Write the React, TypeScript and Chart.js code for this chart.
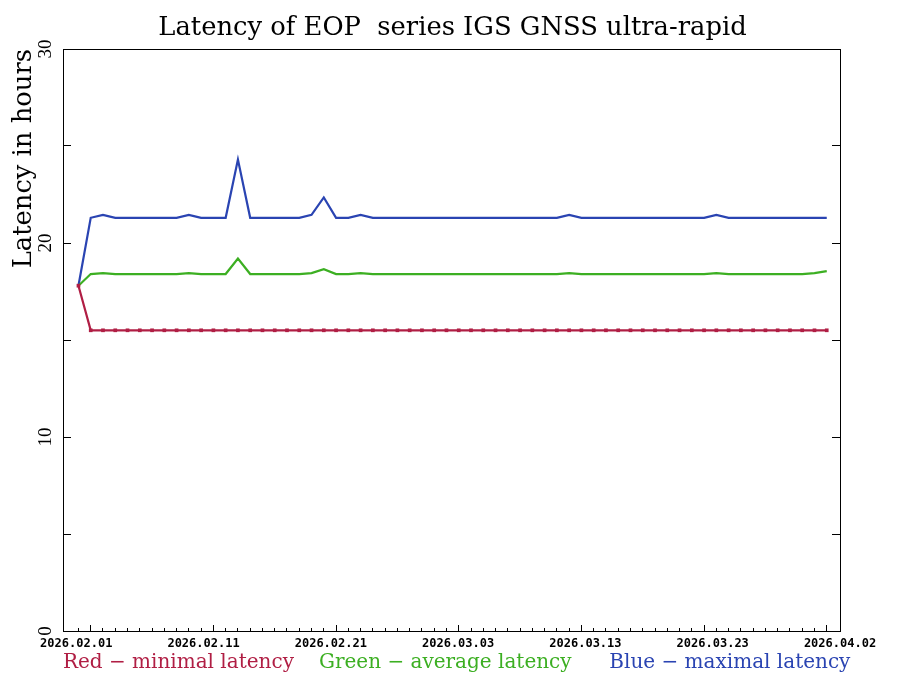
import React, { useEffect, useRef } from "react";
import { Chart, registerables } from "chart.js";

Chart.register(...registerables);

// ---- data -------------------------------------------------------------
const firstDate = "2026-01-31"; // first daily sample
const axisOriginDate = "2026-02-01"; // day 0 on the x axis

const redMinimal = [
  17.8, 15.5, 15.5, 15.5, 15.5, 15.5, 15.5, 15.5, 15.5, 15.5,
  15.5, 15.5, 15.5, 15.5, 15.5, 15.5, 15.5, 15.5, 15.5, 15.5,
  15.5, 15.5, 15.5, 15.5, 15.5, 15.5, 15.5, 15.5, 15.5, 15.5,
  15.5, 15.5, 15.5, 15.5, 15.5, 15.5, 15.5, 15.5, 15.5, 15.5,
  15.5, 15.5, 15.5, 15.5, 15.5, 15.5, 15.5, 15.5, 15.5, 15.5,
  15.5, 15.5, 15.5, 15.5, 15.5, 15.5, 15.5, 15.5, 15.5, 15.5,
  15.5, 15.5,
];

const greenAverage = [
  17.8, 18.4, 18.45, 18.4, 18.4, 18.4, 18.4, 18.4, 18.4, 18.45,
  18.4, 18.4, 18.4, 19.2, 18.4, 18.4, 18.4, 18.4, 18.4, 18.45,
  18.65, 18.4, 18.4, 18.45, 18.4, 18.4, 18.4, 18.4, 18.4, 18.4,
  18.4, 18.4, 18.4, 18.4, 18.4, 18.4, 18.4, 18.4, 18.4, 18.4,
  18.45, 18.4, 18.4, 18.4, 18.4, 18.4, 18.4, 18.4, 18.4, 18.4,
  18.4, 18.4, 18.45, 18.4, 18.4, 18.4, 18.4, 18.4, 18.4, 18.4,
  18.45, 18.55,
];

const blueMaximal = [
  17.8, 21.3, 21.45, 21.3, 21.3, 21.3, 21.3, 21.3, 21.3, 21.45,
  21.3, 21.3, 21.3, 24.3, 21.3, 21.3, 21.3, 21.3, 21.3, 21.45,
  22.35, 21.3, 21.3, 21.45, 21.3, 21.3, 21.3, 21.3, 21.3, 21.3,
  21.3, 21.3, 21.3, 21.3, 21.3, 21.3, 21.3, 21.3, 21.3, 21.3,
  21.45, 21.3, 21.3, 21.3, 21.3, 21.3, 21.3, 21.3, 21.3, 21.3,
  21.3, 21.3, 21.45, 21.3, 21.3, 21.3, 21.3, 21.3, 21.3, 21.3,
  21.3, 21.3,
];

const xTickLabels = [
  "2026.02.01",
  "2026.02.11",
  "2026.02.21",
  "2026.03.03",
  "2026.03.13",
  "2026.03.23",
  "2026.04.02",
];
const xMinorTickDays = [-1, 0, 1, 2, 3, 4, 5, 6, 7, 8, 9, 10, 11, 12, 13, 14, 15, 16, 17, 18, 19, 20,
  21, 22, 23, 24, 25, 26, 27, 28, 29, 30, 31, 32, 33, 34, 35, 36, 37, 38, 39, 40, 41, 42, 43, 44,
  45, 46, 47, 48, 49, 50, 51, 52, 53, 54, 55, 56, 57, 58, 59, 60];
const xMajorTickDays = [0, 10, 20, 30, 40, 50, 60];
const yTickMarks = [0, 5, 10, 15, 20, 25, 30];
const yTickLabelValues = [0, 10, 20, 30];

const titleText = "Latency of EOP  series IGS GNSS ultra-rapid";
const yTitleText = "Latency in hours";
const legendTexts = [
  "Red \u2212 minimal latency",
  "Green \u2212 average latency  ",
  "Blue \u2212 maximal latency  ",
];

const RED = "#b01e44";
const GREEN = "#3caf22";
const BLUE = "#2a44b2";
const seriesColors = [RED, GREEN, BLUE];

// axis extents (days relative to 2026-02-01)
const X_MIN = -2.26;
const X_MAX = 61.08;
const XLAB_MIN = -0.104;
const XLAB_MAX = 6;

const DAY_MS = 86400000;

function dayOffset(i: number): number {
  const start = Date.parse(firstDate + "T00:00:00Z");
  const origin = Date.parse(axisOriginDate + "T00:00:00Z");
  return (start + i * DAY_MS - origin) / DAY_MS;
}

function toPoints(values: number[]) {
  return values.map((v, i) => ({ x: dayOffset(i), y: v }));
}

export default function App() {
  const ref = useRef<HTMLCanvasElement | null>(null);

  useEffect(() => {
    const canvas = ref.current;
    if (!canvas) return;

    const serif = "'DejaVu Serif', serif";
    const digits = "'Liberation Serif', serif";

    const chart = new Chart(canvas, {
      type: "line",
      data: {
        datasets: [
          {
            label: "min",
            data: toPoints(redMinimal),
            borderColor: RED,
            backgroundColor: RED,
            borderWidth: 2.2,
            pointStyle: "rect",
            pointRadius: 2.6,
            pointBorderWidth: 0,
            pointBackgroundColor: RED,
            tension: 0,
          },
          {
            label: "avg",
            data: toPoints(greenAverage),
            borderColor: GREEN,
            backgroundColor: GREEN,
            borderWidth: 2.2,
            pointRadius: 0,
            tension: 0,
          },
          {
            label: "max",
            data: toPoints(blueMaximal),
            borderColor: BLUE,
            backgroundColor: BLUE,
            borderWidth: 2.2,
            pointRadius: 0,
            tension: 0,
          },
        ],
      },
      options: {
        responsive: false,
        animation: false,
        devicePixelRatio: 1,
        events: [],
        layout: { padding: { left: 0, right: 0, top: 0, bottom: -4 } },
        plugins: {
          tooltip: { enabled: false },
          title: {
            display: true,
            text: titleText,
            color: "#000",
            align: "center",
            font: { family: serif, size: 25.8, weight: "normal" },
            padding: { top: 12.6, bottom: 5.44 },
          },
          legend: {
            display: true,
            position: "bottom",
            labels: {
              boxWidth: 11,
              padding: 4,
              font: { family: serif, size: 20 },
              generateLabels: () =>
                legendTexts.map((t, i) => ({
                  text: t,
                  fillStyle: "rgba(0,0,0,0)",
                  strokeStyle: "rgba(0,0,0,0)",
                  lineWidth: 0,
                  fontColor: seriesColors[i],
                  hidden: false,
                  datasetIndex: i,
                })),
            },
          },
        },
        scales: {
          x: {
            type: "linear",
            position: "bottom",
            display: true,
            min: X_MIN,
            max: X_MAX,
            afterBuildTicks: (axis: any) => {
              axis.ticks = xMinorTickDays.map((v) => ({ value: v }));
            },
            ticks: { display: false },
            grid: {
              display: true,
              drawOnChartArea: false,
              drawTicks: true,
              tickLength: -3,
              tickColor: "#000",
              tickWidth: 1,
            },
            border: { display: true, color: "#000", width: 1 },
            afterFit: (s: any) => {
              s.height = 0;
            },
          },
          xMajor: {
            type: "linear",
            position: "bottom",
            display: true,
            min: X_MIN,
            max: X_MAX,
            afterBuildTicks: (axis: any) => {
              axis.ticks = xMajorTickDays.map((v) => ({ value: v }));
            },
            ticks: { display: false },
            grid: {
              display: true,
              drawOnChartArea: false,
              drawTicks: true,
              tickLength: -6,
              tickColor: "#000",
              tickWidth: 1,
            },
            border: { display: false },
            afterFit: (s: any) => {
              s.height = 0;
            },
          },
          xLabels: {
            type: "linear",
            position: "bottom",
            display: true,
            min: XLAB_MIN,
            max: XLAB_MAX,
            afterBuildTicks: (axis: any) => {
              axis.ticks = xTickLabels.map((_, i) => ({ value: i }));
            },
            ticks: {
              display: true,
              autoSkip: false,
              maxRotation: 0,
              minRotation: 0,
              padding: 6,
              color: "#000",
              font: { family: "'DejaVu Sans Mono', monospace", size: 12, weight: "bold" },
              callback: (_v: any, i: number) => xTickLabels[i],
            },
            grid: { display: false, drawTicks: false },
            border: { display: false },
            afterFit: (s: any) => {
              s.height = 18;
            },
          },
          xTop: {
            type: "linear",
            position: "top",
            display: true,
            min: X_MIN,
            max: X_MAX,
            ticks: { display: false },
            grid: { display: false, drawTicks: false },
            border: { display: true, color: "#000", width: 1 },
            afterFit: (s: any) => {
              s.height = 0;
            },
          },
          y: {
            type: "linear",
            position: "left",
            display: true,
            min: 0,
            max: 30,
            afterBuildTicks: (axis: any) => {
              axis.ticks = yTickMarks.map((v) => ({ value: v }));
            },
            ticks: {
              display: true,
              minRotation: 90,
              maxRotation: 90,
              crossAlign: "center",
              padding: 15,
              color: "#000",
              font: { family: digits, size: 19 },
              callback: (v: any) => (yTickLabelValues.includes(Number(v)) ? String(v) : ""),
            },
            grid: {
              display: true,
              drawOnChartArea: false,
              drawTicks: true,
              tickLength: -8,
              tickColor: "#000",
              tickWidth: 1,
            },
            border: { display: true, color: "#000", width: 1 },
            title: {
              display: true,
              text: yTitleText,
              align: "end",
              color: "#000",
              font: { family: serif, size: 25.8, weight: "normal" },
              padding: { top: 9, bottom: 0 },
            },
            afterFit: (s: any) => {
              s.width = 63;
            },
          },
          y2: {
            type: "linear",
            position: "right",
            display: true,
            min: 0,
            max: 30,
            afterBuildTicks: (axis: any) => {
              axis.ticks = yTickMarks.map((v) => ({ value: v }));
            },
            ticks: { display: false },
            grid: {
              display: true,
              drawOnChartArea: false,
              drawTicks: true,
              tickLength: -8,
              tickColor: "#000",
              tickWidth: 1,
            },
            border: { display: true, color: "#000", width: 1 },
            afterFit: (s: any) => {
              s.width = 65;
            },
          },
        },
      } as any,
    });

    return () => {
      chart.destroy();
    };
  }, []);

  return (
    <div style={{ position: "absolute", left: 0, top: 0, width: 905, height: 679, background: "#fff" }}>
      <canvas ref={ref} width={905} height={679} style={{ display: "block", width: 905, height: 679 }} />
    </div>
  );
}
